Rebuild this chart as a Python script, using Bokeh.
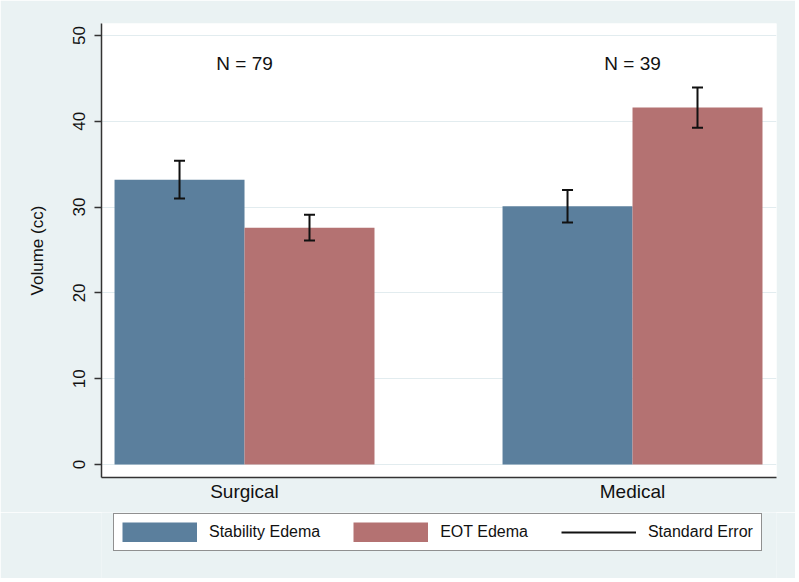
from bokeh.plotting import figure
from bokeh.models import (ColumnDataSource, Range1d, FixedTicker, Legend, LegendItem)
from bokeh.layouts import column
from bokeh.core.properties import value
from bokeh.embed import file_html
from bokeh.resources import INLINE

# ---- data ----
groups = ["Surgical", "Medical"]
n_labels = ["N = 79", "N = 39"]
stability = [33.2, 30.1]
stability_se = [2.2, 1.9]
eot = [27.6, 41.6]
eot_se = [1.5, 2.35]
y_ticks = [0, 10, 20, 30, 40, 50]

BLUE = "#5B7F9D"
RED = "#B47272"
BG = "#EAF2F3"
GRID = "#E2ECEF"
INK = "#111111"
FONT = "Liberation Sans"

pos = [i + 1 for i in range(len(groups))]
bw = 0.335
half = bw / 2

src_s = ColumnDataSource(dict(x=[p_ - half for p_ in pos], top=stability,
                              lo=[v - e for v, e in zip(stability, stability_se)],
                              hi=[v + e for v, e in zip(stability, stability_se)]))
src_e = ColumnDataSource(dict(x=[p_ + half for p_ in pos], top=eot,
                              lo=[v - e for v, e in zip(eot, eot_se)],
                              hi=[v + e for v, e in zip(eot, eot_se)]))

p = figure(frame_width=675, frame_height=454, output_backend="svg", toolbar_location=None,
           x_range=Range1d(0.6314, 2.3711), y_range=Range1d(-1.52, 51.4),
           min_border_left=101, min_border_right=19, min_border_top=23, min_border_bottom=35)
p.background_fill_color = "white"
p.border_fill_color = BG
p.outline_line_color = None

p.vbar(x="x", top="top", bottom=0, width=bw, source=src_s, fill_color=BLUE, line_color=None)
p.vbar(x="x", top="top", bottom=0, width=bw, source=src_e, fill_color=RED, line_color=None)

for src in (src_s, src_e):
    p.segment(x0="x", x1="x", y0="lo", y1="hi", source=src, line_color=INK, line_width=2)
    p.dash(x="x", y="lo", source=src, size=11, line_color=INK, line_width=2)
    p.dash(x="x", y="hi", source=src, size=11, line_color=INK, line_width=2)

# N labels above groups
p.text(x=pos, y=[46.7] * len(pos), text=n_labels, text_align="center", text_baseline="middle",
       text_font=value(FONT), text_font_size="19px", text_color=INK)

# axes
p.xgrid.visible = False
p.ygrid.ticker = FixedTicker(ticks=y_ticks)
p.ygrid.grid_line_color = GRID
p.ygrid.grid_line_width = 1.2

ya = p.yaxis[0]
ya.ticker = FixedTicker(ticks=y_ticks)
ya.axis_label = "Volume (cc)"
ya.axis_label_text_font = FONT
ya.axis_label_text_font_style = "normal"
ya.axis_label_text_font_size = "17px"
ya.axis_label_text_color = INK
ya.axis_label_standoff = 24
ya.major_label_orientation = "vertical"
ya.major_label_text_font = FONT
ya.major_label_text_font_size = "17px"
ya.major_label_text_color = INK
ya.major_label_standoff = 9
ya.major_tick_out = 7
ya.major_tick_in = 0
ya.minor_tick_line_color = None
ya.axis_line_color = "#333333"
ya.axis_line_width = 1.5
ya.major_tick_line_color = "#333333"
ya.major_tick_line_width = 1.5

xa = p.xaxis[0]
xa.ticker = FixedTicker(ticks=pos)
xa.major_label_overrides = {k: g for k, g in zip(pos, groups)}
xa.major_label_text_font = FONT
xa.major_label_text_font_size = "19px"
xa.major_label_text_color = INK
xa.major_label_standoff = 3
xa.major_tick_out = 0
xa.major_tick_in = 0
xa.major_tick_line_color = None
xa.minor_tick_line_color = None
xa.axis_line_color = "#333333"
xa.axis_line_width = 1.5

# ---- legend strip (separate figure, same sources drawn out of view) ----
lg = figure(width=795, height=66, output_backend="svg", toolbar_location=None,
            x_range=Range1d(0, 1), y_range=Range1d(100, 101),
            x_axis_type=None, y_axis_type=None,
            min_border_left=0, min_border_right=0, min_border_top=0, min_border_bottom=0)
lg.background_fill_color = BG
lg.border_fill_color = BG
lg.outline_line_color = None
lg.grid.visible = False
# thick line glyphs give full-size filled legend swatches
l_s = lg.segment(x0="x", x1="x", y0="lo", y1="hi", source=src_s, line_color=BLUE, line_width=20)
l_e = lg.segment(x0="x", x1="x", y0="lo", y1="hi", source=src_e, line_color=RED, line_width=20)
l_se = lg.segment(x0="x", x1="x", y0="lo", y1="hi", source=src_s, line_color=INK, line_width=2)

legend = Legend(items=[LegendItem(label="Stability Edema", renderers=[l_s]),
                       LegendItem(label="EOT Edema", renderers=[l_e]),
                       LegendItem(label="Standard Error", renderers=[l_se])],
                orientation="horizontal", location=(12, 27),
                glyph_width=75, glyph_height=20, label_standoff=12, spacing=33,
                padding=8, margin=0,
                label_text_font=FONT, label_text_font_size="16px", label_text_color=INK,
                border_line_color="#222222", border_line_width=1.2,
                background_fill_color="white", background_fill_alpha=1.0)
lg.add_layout(legend, "center")

layout = column(p, lg, spacing=0)
open("out.html", "w").write(file_html(layout, INLINE))
